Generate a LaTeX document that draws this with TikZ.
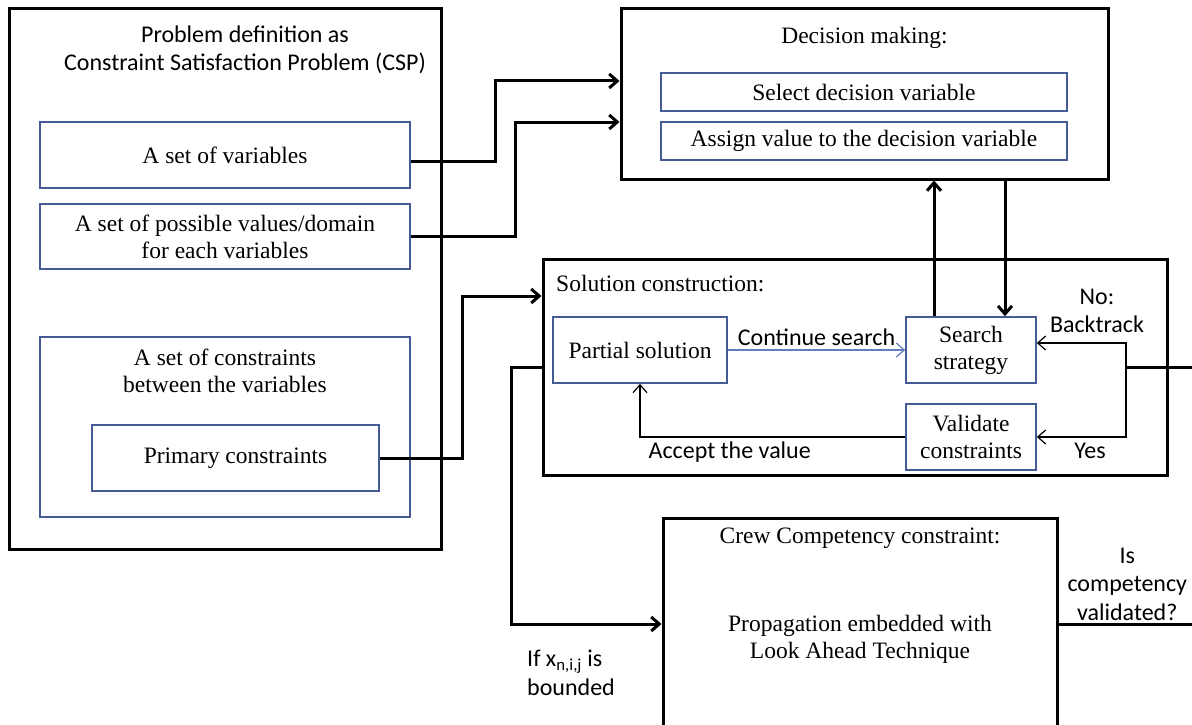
\documentclass[tikz,border=0pt]{standalone}
\usepackage{fontspec}
\setmainfont{Liberation Serif}
\newfontfamily\calibri{Carlito}
\usetikzlibrary{arrows.meta,calc}
\definecolor{boxblue}{RGB}{70,90,150}
\definecolor{arrowblue}{RGB}{100,125,190}
\tikzset{
  outerbox/.style={draw=black, line width=3pt, rectangle, inner sep=0pt},
  innerbox/.style={draw=boxblue, line width=1.6pt, rectangle, inner sep=0pt, align=center, font=\serifbig},
  plaintext/.style={inner sep=0pt, align=center, font=\serifbig},
  sanslbl/.style={inner sep=0pt, align=center, font=\sansbig},
  bigarrow/.style={line width=3pt, -{Straight Barb[length=8pt,width=14pt]}},
  thinarrow/.style={line width=1.2pt, -{Straight Barb[length=8pt,width=14pt]}},
  thickline/.style={line width=3pt}
}
\newcommand{\serifbig}{\fontsize{23.5}{27}\selectfont}
\newcommand{\sansbig}{\calibri\fontsize{24}{28.5}\selectfont}

\begin{document}
\begin{tikzpicture}[x=1pt, y=-1pt]
			%%%%% START %%%%%
			\useasboundingbox (0,0) rectangle (1192,725);
			\clip (0,0) rectangle (1192,725);
			
			% problem definition
			\node[outerbox, minimum width=432, minimum height=540] (prob) at (225,279) {};
			\node[sanslbl] (probtitle) at (245,50) {Problem definition as\\Constraint Satisfaction Problem (CSP)};
			\node[innerbox, minimum width=370, minimum height=66] (vars) at (225,155) {A set of variables};
			\node[innerbox, minimum width=370, minimum height=65] (dom) at (225,236.5) {A set of possible values/domain\\for each variables};
			\node[innerbox, minimum width=370, minimum height=180] (cons) at (225,427) {};
			\node[plaintext] (constitle) at (225,371) {A set of constraints\\between the variables};
			\node[innerbox, minimum width=287, minimum height=66] (prim) at (235.5,458) {Primary constraints};
			
			% decision making
			\node[outerbox, minimum width=487, minimum height=170] (dec) at (864.5,94) {};
			\node[plaintext] (dectitle) at (864.5,38) {Decision making:};
			\node[innerbox, minimum width=406, minimum height=38] (sel) at (864,92) {Select decision variable};
			\node[innerbox, minimum width=406, minimum height=38] (asg) at (864,141) {Assign value to the decision variable};
			
			% solution construction
			\node[outerbox, minimum width=624, minimum height=216] (sol) at (855,367) {};
			\node[plaintext, anchor=west] (soltitle) at (556,284) {Solution construction:};
			\node[innerbox, minimum width=174, minimum height=66] (part) at (640,350) {Partial solution};
			\node[innerbox, minimum width=130, minimum height=66] (srch) at (971,350) {Search\\strategy};
			\node[innerbox, minimum width=130, minimum height=66] (val) at (971,437) {Validate\\constraints};
			\coordinate (br) at (1126,367);
			
			% crew competency
			\node[outerbox, minimum width=394, minimum height=212] (crew) at (860,624) {};
			\node[plaintext] (crewtitle) at (860,538) {Crew Competency constraint:};
			\node[plaintext] (crewbody) at (860,639) {Propagation embedded with\\Look Ahead Technique};
			
			% connectors
			\draw[bigarrow] ([yshift=-6pt]vars.east) -| (495,81) -- ([yshift=13pt]dec.west);
			\draw[bigarrow] (dom.east) -| (515,122) -- ([yshift=-28pt]dec.west);
			\draw[bigarrow] (prim.east) -| (462,296) -- ([yshift=71pt]sol.west);
			
			\draw[bigarrow] ([xshift=-37pt]srch.north) -- ([xshift=-37pt]srch.north |- dec.south);
			\draw[bigarrow] ([xshift=34pt]srch.north |- dec.south) -- ([xshift=34pt]srch.north);
			
			\draw[thinarrow, draw=arrowblue] (part.east) -- (srch.west)
			  node[sanslbl, midway, above=4pt, text=black] (contlbl) {Continue search};
			\draw[thinarrow] (val.west) -| (part.south)
			  node[sanslbl, pos=0.5, anchor=north west, xshift=8pt, yshift=-4pt] (acclbl) {Accept the value};
			
			\draw[thickline] (crew.east) -- ++(160,0)
			  node[sanslbl, pos=0.43, above=2pt] (isval) {Is\\competency\\validated?} |- (br);
			\draw[thinarrow] (br) |- ([yshift=7pt]srch.east);
			\draw[thinarrow] (br) |- (val.east);
			\node[sanslbl] (nolbl) at (1097,311) {No:\\Backtrack};
			\node[sanslbl] (yeslbl) at (1090,451) {Yes};
			
			\draw[bigarrow] (sol.west) -- ++(-30,0) |- (crew.west);
			\node[sanslbl, align=left, anchor=north west] (iflbl) at (527,650) {If x\textsubscript{n,i,j} is\\bounded};
			
			%%%%% END %%%%%
\end{tikzpicture}
\end{document}
